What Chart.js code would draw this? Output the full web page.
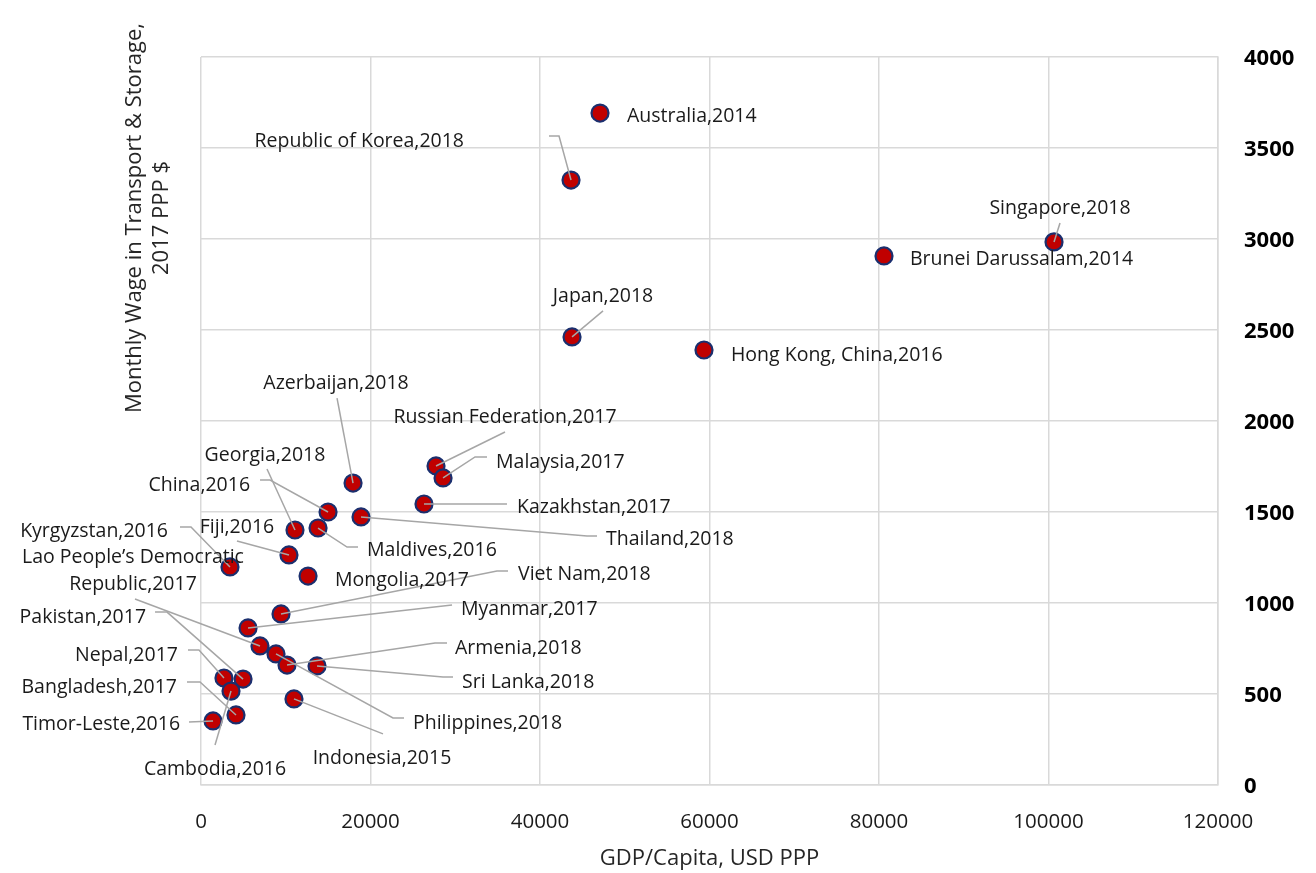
<!DOCTYPE html>
<html>
<head>
<meta charset="utf-8">
<script src="https://cdn.jsdelivr.net/npm/chart.js@4.4.1/dist/chart.umd.min.js"></script>
<style>
  html, body { margin: 0; padding: 0; background: #ffffff; }
  #wrap { width: 1316px; height: 873px; }
</style>
</head>
<body>
<div id="wrap"><canvas id="c" width="1316" height="873"></canvas></div>
<script>
// ---------------- DATA ----------------
const countries = [
  "Australia", "Republic of Korea", "Singapore", "Brunei Darussalam", "Japan",
  "Hong Kong, China", "Azerbaijan", "Russian Federation", "Malaysia", "Kazakhstan",
  "Thailand", "China", "Georgia", "Maldives", "Fiji",
  "Kyrgyzstan", "Mongolia", "Viet Nam", "Myanmar", "Lao People’s Democratic Republic",
  "Pakistan", "Nepal", "Bangladesh", "Timor-Leste", "Cambodia",
  "Indonesia", "Philippines", "Armenia", "Sri Lanka"
];
const years = [
  2014, 2018, 2018, 2014, 2018,
  2016, 2018, 2017, 2017, 2017,
  2018, 2016, 2018, 2016, 2016,
  2016, 2017, 2018, 2017, 2017,
  2017, 2017, 2017, 2016, 2016,
  2015, 2018, 2018, 2018
];
const gdpPerCapita = [
  47080, 43660, 100650, 80590, 43780,
  59350, 17940, 27730, 28560, 26310,
  18880, 14990, 11090, 13810, 10380,
  3420, 12630, 9440, 5550, 6960,
  4960, 2710, 4130, 1420, 3540,
  10970, 8850, 10150, 13690
];
const monthlyWage = [
  3692, 3324, 2984, 2907, 2462,
  2390, 1659, 1753, 1687, 1544,
  1473, 1500, 1401, 1412, 1264,
  1198, 1148, 940, 863, 764,
  582, 588, 385, 352, 516,
  473, 720, 659, 654
];
const xTickValues = [0, 20000, 40000, 60000, 80000, 100000, 120000];
const yTickValues = [0, 500, 1000, 1500, 2000, 2500, 3000, 3500, 4000];
const xAxisTitle = "GDP/Capita, USD PPP";
const yAxisTitle = ["Monthly Wage in Transport & Storage,", "2017 PPP $"];

// ---------------- LABEL LAYOUT (pixel offsets from each point) ----------------
const labelLayout = [
  {a: 'left',   dx: 27,   dy: 1},
  {a: 'right',  dx: -107, dy: -41, lead: [[-22, -44], [-12, -44]]},
  {a: 'center', dx: 6,    dy: -35, lead: [[6, -19]]},
  {a: 'left',   dx: 26,   dy: 2},
  {a: 'center', dx: 31,   dy: -42, lead: [[31, -26]]},
  {a: 'left',   dx: 27,   dy: 3},
  {a: 'center', dx: -17,  dy: -102, lead: [[-16, -85]]},
  {a: 'center', dx: 69,   dy: -51, lead: [[69, -34]]},
  {a: 'left',   dx: 53,   dy: -18, lead: [[44, -21], [32, -21]]},
  {a: 'left',   dx: 93,   dy: 1,   lead: [[83, 0]]},
  {a: 'left',   dx: 245,  dy: 21,  lead: [[236, 19], [226, 19]]},
  {a: 'right',  dx: -78,  dy: -29, lead: [[-68, -32], [-58, -32]]},
  {a: 'center', dx: -30,  dy: -77, lead: [[-28, -61]]},
  {a: 'left',   dx: 49,   dy: 20,  lead: [[40, 19], [29, 19]]},
  {a: 'center', dx: -52,  dy: -30, lead: [[-52, -14]]},
  {a: 'right',  dx: -62,  dy: -38, lead: [[-50, -40], [-39, -40]]},
  {a: 'left',   dx: 27,   dy: 2},
  {a: 'left',   dx: 237,  dy: -41, lead: [[227, -43], [216, -43]]},
  {a: 'left',   dx: 213,  dy: -20, lead: [[204, -23]]},
  {a: 'center', dx: -127, dy: -91, br: 23, lead: [[-125, -47]]},
  {a: 'right',  dx: -97,  dy: -64, lead: [[-88, -67], [-76, -67]]},
  {a: 'right',  dx: -46,  dy: -25, lead: [[-36, -28], [-25, -28]]},
  {a: 'right',  dx: -59,  dy: -29, lead: [[-49, -33], [-36, -33]]},
  {a: 'right',  dx: -33,  dy: 2,   lead: [[-24, 1]]},
  {a: 'center', dx: -16,  dy: 76,  lead: [[-16, 54]]},
  {a: 'center', dx: 88,   dy: 58,  lead: [[89, 35]]},
  {a: 'left',   dx: 137,  dy: 67,  lead: [[128, 64], [117, 64]]},
  {a: 'left',   dx: 168,  dy: -19, lead: [[160, -22], [148, -22]]},
  {a: 'left',   dx: 145,  dy: 14,  lead: [[136, 11], [126, 11]]}
];

const LABEL_FONT = '19.5px "Open Sans"';
const TEXT_SHIFT = 2;   // Open Sans sits a little high with a middle baseline
const GRID = '#d9d9d9';

const pointLabelPlugin = {
  id: 'pointLabelPlugin',
  afterDatasetsDraw(chart) {
    const ctx = chart.ctx;
    const meta = chart.getDatasetMeta(0);
    ctx.save();
    meta.data.forEach((pt, i) => {
      const L = labelLayout[i];
      if (!L) return;
      const px = pt.x, py = pt.y;
      if (L.lead) {
        ctx.beginPath();
        ctx.strokeStyle = '#a6a6a6';
        ctx.lineWidth = 1.5;
        L.lead.forEach(([dx, dy], k) => {
          if (k === 0) ctx.moveTo(px + dx, py + dy); else ctx.lineTo(px + dx, py + dy);
        });
        ctx.lineTo(px, py);
        ctx.stroke();
      }
    });
    ctx.font = LABEL_FONT;
    ctx.fillStyle = '#1a1a1a';
    ctx.textBaseline = 'middle';
    meta.data.forEach((pt, i) => {
      const L = labelLayout[i];
      if (!L) return;
      const text = countries[i] + ',' + years[i];
      ctx.textAlign = L.a;
      const ty = pt.y + L.dy + TEXT_SHIFT;
      if (L.br) {
        const l1 = text.slice(0, L.br).trim();
        const l2 = text.slice(L.br).trim();
        ctx.fillText(l1, pt.x + L.dx, ty);
        ctx.fillText(l2, pt.x + L.dx, ty + 27);
      } else {
        ctx.fillText(text, pt.x + L.dx, ty);
      }
    });
    ctx.restore();
  }
};

const yTitlePlugin = {
  id: 'yTitlePlugin',
  afterDraw(chart) {
    const ctx = chart.ctx;
    ctx.save();
    ctx.translate(135, 218);
    ctx.rotate(-Math.PI / 2);
    ctx.font = '22px "Open Sans"';
    ctx.fillStyle = '#262626';
    ctx.textAlign = 'center';
    ctx.textBaseline = 'middle';
    yAxisTitle.forEach((line, k) => ctx.fillText(line, 0, k * 27));
    ctx.restore();
  }
};

function draw() {
  new Chart(document.getElementById('c'), {
    type: 'scatter',
    data: {
      datasets: [{
        label: 'Monthly wage',
        data: gdpPerCapita.map((x, i) => ({x: x, y: monthlyWage[i]})),
        backgroundColor: '#c00000',
        borderColor: '#1b2f6e',
        borderWidth: 2.2,
        pointRadius: 8.5,
        pointHoverRadius: 8.5
      }]
    },
    options: {
      responsive: false,
      animation: false,
      devicePixelRatio: 1,
      layout: { padding: { left: 201, top: 57, right: 0, bottom: 0 } },
      plugins: {
        legend: { display: false },
        tooltip: { enabled: false },
        title: { display: false }
      },
      scales: {
        x: {
          type: 'linear',
          position: 'bottom',
          min: 0, max: 120000,
          afterBuildTicks: s => { s.ticks = xTickValues.map(v => ({value: v})); },
          afterFit: s => { s.height = 88; },
          grid: { color: GRID, lineWidth: 1.5, drawTicks: false },
          border: { display: true, color: GRID, width: 1.5 },
          ticks: {
            padding: 25,
            color: '#1a1a1a',
            font: { family: 'Open Sans', size: 20.5 },
            maxRotation: 0,
            callback: v => String(v)
          },
          title: {
            display: true,
            text: xAxisTitle,
            color: '#262626',
            font: { family: 'Open Sans', size: 22 },
            padding: { top: 0, bottom: 1 }
          }
        },
        y: {
          type: 'linear',
          position: 'right',
          min: 0, max: 4000,
          afterBuildTicks: s => { s.ticks = yTickValues.map(v => ({value: v})); },
          afterFit: s => { s.width = 98; },
          grid: { color: GRID, lineWidth: 1.5, drawTicks: false },
          border: { display: true, color: GRID, width: 1.5 },
          ticks: {
            padding: 26,
            labelOffset: 2,
            color: '#000000',
            font: { family: 'Open Sans', size: 22, weight: 'bold' },
            callback: v => String(v)
          }
        }
      }
    },
    plugins: [pointLabelPlugin, yTitlePlugin]
  });
}

if (document.fonts && document.fonts.load) {
  Promise.all([
    document.fonts.load('20px "Open Sans"'),
    document.fonts.load('bold 22px "Open Sans"')
  ]).then(draw, draw);
} else {
  draw();
}
</script>
</body>
</html>
